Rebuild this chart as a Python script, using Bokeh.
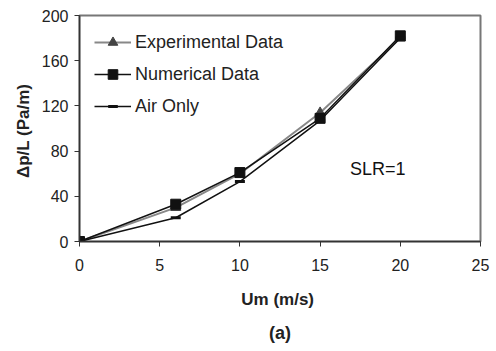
from bokeh.plotting import figure
from bokeh.models import Range1d, FixedTicker, Legend, LegendItem, Label, Title
from bokeh.embed import file_html
from bokeh.resources import INLINE

# Data
x_vals = [0, 6, 10, 15, 20]
experimental = [0, 30, 60, 114, 180]
numerical = [0, 33, 61, 109, 182]
air_only = [0, 21, 53, 107, 180]
x_ticks = [0, 5, 10, 15, 20, 25]
y_ticks = [0, 40, 80, 120, 160, 200]

FONT = "Liberation Sans"

p = figure(width=496, height=351, output_backend="svg", toolbar_location=None,
           x_range=Range1d(0, 25), y_range=Range1d(0, 200),
           min_border_left=79, min_border_right=16, min_border_top=15, min_border_bottom=110)
p.background_fill_color = "white"
p.border_fill_color = "white"
p.outline_line_color = "#777777"
p.outline_line_width = 2
p.xgrid.grid_line_color = None
p.ygrid.grid_line_color = None

for ax, ticks in ((p.xaxis[0], x_ticks), (p.yaxis[0], y_ticks)):
    ax.ticker = FixedTicker(ticks=ticks)
    ax.minor_tick_line_color = None
    ax.major_tick_in = 0
    ax.major_tick_out = 5
    ax.axis_line_color = "#333333"
    ax.axis_line_width = 1.5
    ax.major_tick_line_color = "#333333"
    ax.major_label_text_font = FONT
    ax.major_label_text_font_size = "16px"
    ax.major_label_text_color = "#222222"
    ax.axis_label_text_font = FONT
    ax.axis_label_text_font_size = "17px"
    ax.axis_label_text_font_style = "bold"
    ax.axis_label_text_color = "#222222"

p.yaxis.major_label_standoff = 6
p.xaxis.major_label_standoff = 12
p.xaxis.axis_label = "Um  (m/s)"
p.xaxis.axis_label_standoff = 16
p.yaxis.axis_label = "\u0394p/L  (Pa/m)"
p.yaxis.axis_label_standoff = 6

# Series
le = p.line(x_vals, experimental, line_color="#888888", line_width=2)
se = p.scatter(x_vals, experimental, marker="triangle", size=10,
               fill_color="#444444", line_color="#444444")
ln = p.line(x_vals, numerical, line_color="#111111", line_width=1.5)
sn = p.scatter(x_vals, numerical, marker="square", size=10,
               fill_color="#111111", line_color="#111111")
la = p.line(x_vals, air_only, line_color="#111111", line_width=1.5)
sa = p.scatter(x_vals, air_only, marker="dash", size=10,
               line_color="#111111", line_width=3)

legend = Legend(items=[
    LegendItem(label="Experimental Data", renderers=[le, se]),
    LegendItem(label="Numerical Data", renderers=[ln, sn]),
    LegendItem(label="Air Only", renderers=[la, sa]),
], location="top_left")
legend.margin = 15
legend.padding = 0
legend.spacing = 8
legend.glyph_width = 37
legend.glyph_height = 24
legend.label_height = 24
legend.label_standoff = 4
legend.label_text_font = FONT
legend.label_text_font_size = "18px"
legend.label_text_color = "#222222"
legend.border_line_color = None
legend.background_fill_alpha = 0
p.add_layout(legend)

p.add_layout(Label(x=18.6, y=64, text="SLR=1", text_font=FONT, text_font_size="18px",
                   text_color="#111111", text_align="center", text_baseline="middle"))

t = Title(text="(a)", align="center", text_font=FONT, text_font_size="18px",
          text_font_style="bold", text_color="#222222", standoff=18)
p.add_layout(t, "below")

open("out.html", "w").write(file_html(p, INLINE))
